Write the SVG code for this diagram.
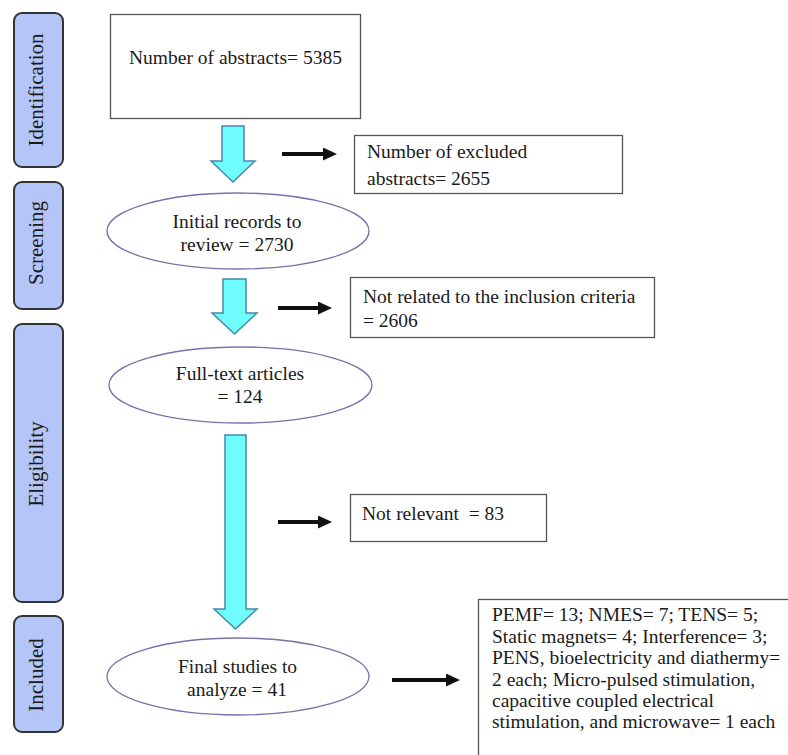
<svg xmlns="http://www.w3.org/2000/svg" width="788" height="755" viewBox="0 0 788 755">
<defs>
<style>
.t{font-family:"Liberation Serif","Times New Roman",serif;font-size:19.5px;fill:#1a1a1a}
.side{font-family:"Liberation Serif","Times New Roman",serif;font-size:21px;fill:#1a1a1a;text-anchor:middle}
.bar{fill:#b3c6f7;stroke:#333;stroke-width:2}
.box{fill:#fff;stroke:#555;stroke-width:1.3}
.ell{fill:#fff;stroke:#7274aa;stroke-width:1.3}
.blk{fill:#6ffcfc;stroke:#4a88aa;stroke-width:1.5}
.arr{stroke:#111;stroke-width:4;fill:none}
.mid{text-anchor:middle}
</style>
<marker id="ah" markerUnits="userSpaceOnUse" markerWidth="14" markerHeight="13" refX="2" refY="6.5" orient="auto">
<path d="M0,0 L14,6.5 L0,13 z" fill="#111"/>
</marker>
</defs>
<rect width="788" height="755" fill="#fff"/>

<g id="stage-identification">
<rect class="bar" x="14" y="13" width="49" height="154" rx="8"/>
<text class="side" transform="translate(43,90) rotate(-90)">Identification</text>
</g>
<g id="stage-screening">
<rect class="bar" x="14" y="182" width="49" height="127" rx="8"/>
<text class="side" transform="translate(43,243) rotate(-90)">Screening</text>
</g>
<g id="stage-eligibility">
<rect class="bar" x="14" y="324" width="49" height="278" rx="8"/>
<text class="side" transform="translate(43,464) rotate(-90)">Eligibility</text>
</g>
<g id="stage-included">
<rect class="bar" x="14" y="616" width="49" height="116" rx="8"/>
<text class="side" transform="translate(43,675) rotate(-90)">Included</text>
</g>

<g id="abstracts">
<rect class="box" x="110.5" y="14.5" width="250" height="104"/>
<text class="t" x="129" y="64">Number of abstracts= 5385</text>
</g>
<g id="excluded-abstracts">
<rect class="box" x="354.5" y="135.5" width="268" height="58"/>
<text class="t" x="367" y="158">Number of excluded</text>
<text class="t" x="367" y="185">abstracts= 2655</text>
</g>
<g id="initial-records">
<ellipse class="ell" cx="238" cy="231" rx="131" ry="38"/>
<text class="t mid" x="237" y="228">Initial records to</text>
<text class="t mid" x="237" y="251">review = 2730</text>
</g>
<g id="not-related">
<rect class="box" x="350.5" y="277.5" width="304" height="60"/>
<text class="t" x="363" y="303">Not related to the inclusion criteria</text>
<text class="t" x="363" y="327">= 2606</text>
</g>
<g id="full-text">
<ellipse class="ell" cx="240.5" cy="385" rx="131.5" ry="38"/>
<text class="t mid" x="240" y="380">Full-text articles</text>
<text class="t mid" x="240" y="403">= 124</text>
</g>
<g id="not-relevant">
<rect class="box" x="350.5" y="494.5" width="196" height="47"/>
<text class="t" x="362" y="520">Not relevant&#160; = 83</text>
</g>
<g id="final-studies">
<ellipse class="ell" cx="238" cy="676.5" rx="131" ry="38.5"/>
<text class="t mid" x="237.5" y="673">Final studies to</text>
<text class="t mid" x="237" y="696">analyze = 41</text>
</g>
<g id="included-breakdown">
<rect class="box" x="478.5" y="599.5" width="330" height="180"/>
<text class="t" x="492" y="621">PEMF= 13; NMES= 7; TENS= 5;</text>
<text class="t" x="492" y="643">Static magnets= 4; Interference= 3;</text>
<text class="t" x="492" y="664">PENS, bioelectricity and diathermy=</text>
<text class="t" x="492" y="686">2 each; Micro-pulsed stimulation,</text>
<text class="t" x="492" y="707">capacitive coupled electrical</text>
<text class="t" x="492" y="728">stimulation, and microwave= 1 each</text>
</g>

<g id="connectors">
<polygon class="blk" points="222,126 244,126 244,161 255,161 233,182 211,161 222,161"/>
<polygon class="blk" points="223,279 246,279 246,313 257,313 234.5,334 212,313 223,313"/>
<polygon class="blk" points="225,435 246,435 246,609 257,609 235.5,629 214,609 225,609"/>
<line class="arr" x1="282" y1="154" x2="325" y2="154" marker-end="url(#ah)"/>
<line class="arr" x1="278" y1="308" x2="320" y2="308" marker-end="url(#ah)"/>
<line class="arr" x1="278" y1="522" x2="320" y2="522" marker-end="url(#ah)"/>
<line class="arr" x1="392" y1="680" x2="448" y2="680" marker-end="url(#ah)"/>
</g>
</svg>
